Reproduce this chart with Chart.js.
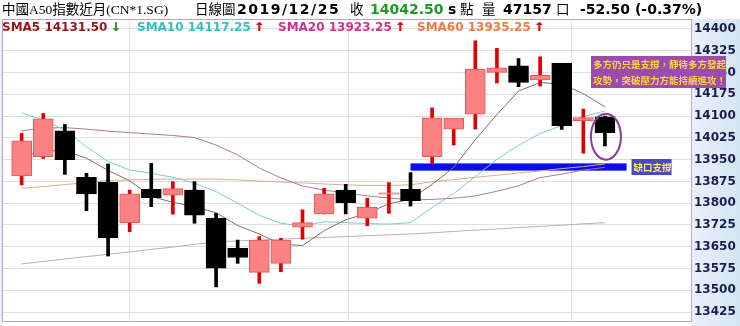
<!DOCTYPE html>
<html>
<head>
<meta charset="utf-8">
<script src="https://cdn.jsdelivr.net/npm/chart.js@4.4.1/dist/chart.umd.min.js"></script>
<style>
  html, body { margin: 0; padding: 0; background: #fff; }
  #wrap { width: 740px; height: 326px; }
</style>
</head>
<body>
<div id="wrap"><canvas id="kChart" width="740" height="326"></canvas></div>
<script>
// 日K資料 (由圖上讀出的估計值)
const slots  = [0, 1, 2, 3, 4, 5, 6, 7, 8, 9, 10, 11, 12, 13, 14, 15, 16, 17, 18, 19, 20, 21, 22, 23, 24, 25, 26, 27];
const opens  = [13894, 13960, 14049, 13889, 13872, 13733, 13848, 13828, 13845, 13748, 13645, 13562, 13593, 13717, 13763, 13845, 13748, 13831, 13848, 13960, 14055, 14106, 14250, 14273, 14224, 14281, 14084, 14097.5];
const closes = [14015, 14090, 13950, 13832, 13680, 13832, 13819, 13850, 13759, 13576, 13613, 13673, 13673, 13733, 13832, 13802, 13786, 13836, 13809, 14094, 14092, 14262, 14266, 14216, 14240, 14067, 14095, 14042.5];
const highs  = [14040, 14109, 14071, 13903, 13935, 13845, 13937, 13874, 13874, 13765, 13673, 13685, 13679, 13777, 13851, 13865, 13817, 13871, 13905, 14128, 14092, 14359, 14333, 14298, 14304, 14281, 14124, 14100];
const lows   = [13863, 13954, 13899, 13774, 13618, 13702, 13788, 13762, 13731, 13512, 13593, 13524, 13564, 13676, 13763, 13763, 13722, 13765, 13790, 13937, 14000, 14055, 14214, 14201, 14203, 14054, 13972, 13997];

// 均線
const sma5  = [13960, 13981, 13980, 13955, 13913, 13877, 13823, 13803, 13788, 13767, 13723, 13694, 13659, 13654, 13705, 13743, 13765, 13798, 13813, 13865, 13923, 14019, 14105, 14186, 14215, 14210, 14177, 14131.5];
const sma10 = [14111, 14086, 14052, 13994, 13943, 13914, 13903, 13889, 13869, 13840, 13800, 13758, 13731, 13721, 13736, 13733, 13730, 13728, 13733, 13785, 13833, 13892, 13951, 13999, 14040, 14067, 14098, 14117.25];
const sma20 = [14049, 14059, 14060, 14055, 14048, 14043, 14038, 14033, 14026, 14000, 13966, 13921, 13887, 13859, 13845, 13835, 13825, 13818, 13811, 13813, 13817, 13825, 13841, 13860, 13888, 13900, 13914, 13923.25];
const sma60 = [13851, 13857, 13864, 13871, 13878, 13880, 13882, 13883, 13883, 13883, 13880, 13876, 13873, 13870, 13866, 13863, 13861, 13861, 13863, 13874, 13881, 13889, 13896, 13904, 13911, 13919, 13926, 13935.25];
const smaLong = [13591, 13599, 13608, 13616, 13624, 13632, 13641, 13649, 13658, 13667, 13670, 13673, 13676, 13679, 13682, 13685, 13688, 13691, 13694, 13698, 13703, 13707, 13711, 13716, 13720, 13724, 13729, 13733];

const yTicks = [13425, 13500, 13575, 13650, 13725, 13800, 13875, 13950, 14025, 14100, 14175, 14250, 14325, 14400];
const vLines = [0, 10, 20.3];

// 缺口支撐區 (起訖K棒位置, 價位)
const gapFrom = 18, gapTo = 28, gapLo = 13912, gapHi = 13937;

const isUp = i => closes[i] >= opens[i];
const pts = arr => arr.map((v, i) => ({ x: slots[i], y: v }));

function txt(ctx, s, x, y, font, color, spacing) {
    ctx.font = font;
    ctx.fillStyle = color;
    ctx.letterSpacing = spacing || '0px';
    ctx.fillText(s, x, y);
    const w = ctx.measureText(s).width;
    ctx.letterSpacing = '0px';
    return x + w;
}

// 粗箭頭 (重描一次加粗)
function arrow(ctx, s, x, y, color) {
    txt(ctx, s, x, y, 'bold 12px "DejaVu Sans"', color);
    txt(ctx, s, x + 0.7, y, 'bold 12px "DejaVu Sans"', color);
}

const SERIF = '13.5px "Liberation Serif", "Noto Sans CJK TC"';
const BOLD = 'bold 14px "DejaVu Sans"';
const LBOLD = 'bold 12px "DejaVu Sans"';
const NOTE = 'bold 9.5px "Noto Sans CJK TC"';

const deco = {
    id: 'deco',
    beforeDraw(chart) {
        const ctx = chart.ctx, a = chart.chartArea;
        ctx.save();
        ctx.fillStyle = '#fff';
        ctx.fillRect(0, 0, chart.width, chart.height);
        const g = ctx.createLinearGradient(a.right, 0, chart.width, 0);
        g.addColorStop(0, '#e8f1fa');
        g.addColorStop(1, '#d3e5f4');
        ctx.fillStyle = g;
        ctx.fillRect(a.right, a.top, chart.width - a.right, chart.height - a.top);
        ctx.fillRect(0, a.top, a.left, chart.height - a.top);
        ctx.restore();
    },
    beforeDatasetsDraw(chart) {
        const { ctx, scales: { x, y } } = chart;
        const x0 = x.getPixelForValue(gapFrom), x1 = x.getPixelForValue(gapTo);
        const y0 = y.getPixelForValue(gapHi), y1 = y.getPixelForValue(gapLo);
        ctx.save();
        ctx.fillStyle = '#0b0bf0';
        ctx.fillRect(x0, y0, x1 - x0, y1 - y0);
        ctx.restore();
    },
    afterDraw(chart) {
        const { ctx, chartArea: a, scales: { x, y } } = chart;
        ctx.save();
        // 外框
        ctx.strokeStyle = '#c49fd4';
        ctx.lineWidth = 1;
        ctx.strokeRect(a.left + 0.5, a.top + 0.5, a.width - 1, a.height - 1);

        // 標題列
        ctx.textBaseline = 'middle';
        txt(ctx, '中國A50指數近月(CN*1.SG)', 2, 10, SERIF, '#000');
        txt(ctx, '日線圖', 195, 10, SERIF, '#000');
        txt(ctx, '2019/12/25', 237, 10, BOLD, '#000', '1.5px');
        txt(ctx, '收', 350, 10, SERIF, '#000');
        txt(ctx, '14042.50', 370, 10, BOLD, '#1f9a2a');
        txt(ctx, 's', 448, 10, BOLD, '#000');
        txt(ctx, '點', 460, 10, SERIF, '#000');
        txt(ctx, '量', 482, 10, SERIF, '#000');
        txt(ctx, '47157', 503, 10, BOLD, '#000');
        txt(ctx, '口', 556, 10, SERIF, '#000');
        txt(ctx, '-52.50 (-0.37%)', 580, 10, BOLD, '#000');

        // 均線說明
        let e = txt(ctx, 'SMA5 14131.50', 2, 28, LBOLD, '#9a1414');
        arrow(ctx, '↓', e + 3, 28, '#2f9a2f');
        e = txt(ctx, 'SMA10 14117.25', 137, 28, LBOLD, '#2ec3c3');
        arrow(ctx, '↑', e + 3, 28, '#e01010');
        e = txt(ctx, 'SMA20 13923.25', 278, 28, LBOLD, '#d2308c');
        arrow(ctx, '↑', e + 3, 28, '#e01010');
        e = txt(ctx, 'SMA60 13935.25', 417, 28, LBOLD, '#f07a40');
        arrow(ctx, '↑', e + 3, 28, '#e01010');

        // 圈出最後一根
        ctx.strokeStyle = '#8a3c9c';
        ctx.lineWidth = 2;
        ctx.beginPath();
        ctx.ellipse(x.getPixelForValue(slots[27]) + 1, y.getPixelForValue(14029), 15, 23, 0, 0, Math.PI * 2);
        ctx.stroke();

        // 缺口支撐標籤
        const gx = x.getPixelForValue(gapTo) + 5;
        const gy = y.getPixelForValue((gapLo + gapHi) / 2);
        ctx.fillStyle = '#4848c8';
        ctx.fillRect(gx, gy - 8, 40, 16);
        txt(ctx, '缺口支撐', gx + 2, gy, NOTE, '#ffe85a');

        // 說明框
        ctx.fillStyle = '#9a4dae';
        ctx.fillRect(591, 56, 135, 32);
        txt(ctx, '多方仍只是支撐，靜待多方發起', 593, 64, NOTE, '#ffd23f');
        txt(ctx, '攻勢，突破壓力方能持續進攻！', 593, 80, NOTE, '#ffd23f');
        ctx.restore();
    }
};

const lineDs = (label, arr, color) => ({
    type: 'line', label, data: pts(arr), borderColor: color, borderWidth: 1,
    pointRadius: 0, tension: 0, fill: false, order: 2
});

new Chart(document.getElementById('kChart'), {
    type: 'bar',
    data: {
        datasets: [
            {
                label: 'body',
                data: slots.map((s, i) => ({ x: s, y: [opens[i], closes[i]] })),
                backgroundColor: c => isUp(c.dataIndex) ? '#fa8282' : '#000',
                borderColor: c => isUp(c.dataIndex) ? '#e45a5a' : '#000',
                borderWidth: 1,
                borderSkipped: false,
                barThickness: 20,
                grouped: false,
                order: 0
            },
            {
                label: 'wick',
                data: slots.map((s, i) => ({ x: s, y: [lows[i], highs[i]] })),
                backgroundColor: c => isUp(c.dataIndex) ? '#e00000' : '#000',
                borderWidth: 0,
                barThickness: 3,
                grouped: false,
                order: 1
            },
            lineDs('SMA5', sma5, '#8a6c6c'),
            lineDs('SMA10', sma10, '#78cfcf'),
            lineDs('SMA20', sma20, '#ad7b9c'),
            lineDs('SMA60', sma60, '#d6b08e'),
            lineDs('SMA', smaLong, '#b4b4b4')
        ]
    },
    options: {
        responsive: false,
        animation: false,
        layout: { padding: { top: 19, left: 2, right: 0, bottom: 4 } },
        plugins: { legend: { display: false }, tooltip: { enabled: false } },
        scales: {
            x: {
                type: 'linear', min: -0.91, max: 31.03, offset: false,
                ticks: { display: false },
                grid: { color: '#e2e2e2', drawTicks: false },
                border: { display: false },
                afterBuildTicks: s => { s.ticks = vLines.map(v => ({ value: v })); }
            },
            y: {
                position: 'right', min: 13391, max: 14434,
                ticks: {
                    font: { family: 'DejaVu Sans', size: 12, weight: 'bold' },
                    color: '#1c1c50', padding: 2,
                    callback: v => String(v)
                },
                grid: { color: '#dedede', drawTicks: false },
                border: { display: false },
                afterBuildTicks: s => { s.ticks = yTicks.map(v => ({ value: v })); },
                afterFit: s => { s.width = 48; s.paddingTop = 0; s.paddingBottom = 0; }
            }
        }
    },
    plugins: [deco]
});
</script>
</body>
</html>
